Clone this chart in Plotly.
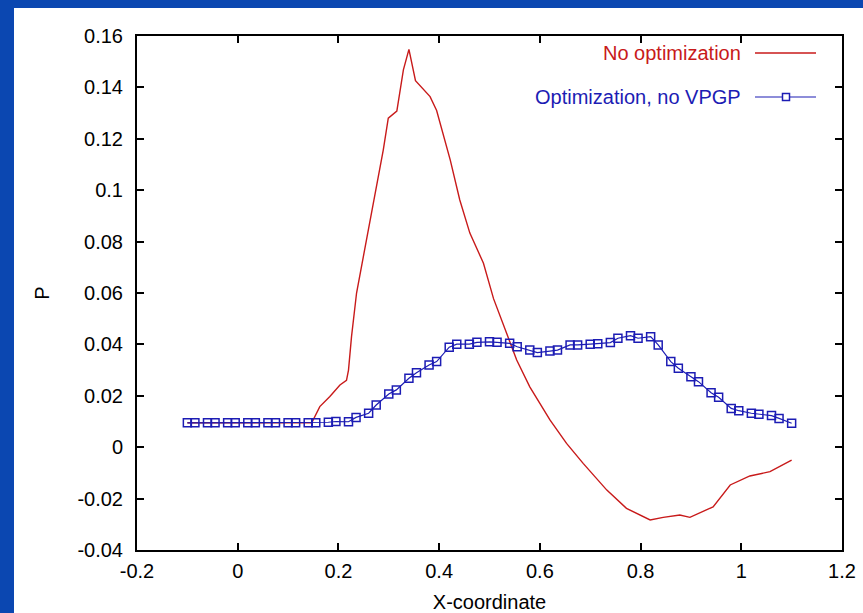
import plotly.graph_objects as go

# ---- data ----
red_x = [-0.1, 0.0, 0.1, 0.147, 0.163, 0.183, 0.203, 0.216, 0.22, 0.226, 0.236, 0.256,
         0.276, 0.289, 0.299, 0.316, 0.329, 0.34, 0.353, 0.382, 0.395, 0.422, 0.441,
         0.461, 0.488, 0.508, 0.534, 0.554, 0.58, 0.62, 0.653, 0.686, 0.733, 0.772,
         0.819, 0.845, 0.878, 0.898, 0.944, 0.978, 1.017, 1.057, 1.10]
red_y = [0.0095, 0.0095, 0.0095, 0.0095, 0.0158, 0.0197, 0.0242, 0.026, 0.030, 0.043,
         0.060, 0.0806, 0.1014, 0.1156, 0.128, 0.1308, 0.1468, 0.1548, 0.1426, 0.1364,
         0.131, 0.1118, 0.0962, 0.0833, 0.0716, 0.0578, 0.0443, 0.0339, 0.0235, 0.0106,
         0.0015, -0.0063, -0.0167, -0.0238, -0.0283, -0.0273, -0.0264, -0.0273, -0.0232,
         -0.0147, -0.0112, -0.0095, -0.005]

blue_x = [-0.1, -0.085, -0.06, -0.045, -0.02, -0.005, 0.02, 0.035, 0.06, 0.075, 0.10, 0.115,
          0.14, 0.155, 0.18, 0.195, 0.22, 0.235, 0.26, 0.275, 0.30, 0.315, 0.34, 0.355,
          0.38, 0.395, 0.42, 0.435, 0.46, 0.475, 0.50, 0.515, 0.54, 0.555, 0.58, 0.595,
          0.62, 0.635, 0.66, 0.675, 0.70, 0.715, 0.74, 0.755, 0.78, 0.795, 0.82, 0.835,
          0.86, 0.875, 0.90, 0.915, 0.94, 0.955, 0.98, 0.995, 1.02, 1.035, 1.06, 1.075, 1.10]
blue_y = [0.0095, 0.0095, 0.0095, 0.0095, 0.0095, 0.0095, 0.0095, 0.0095, 0.0095, 0.0095,
          0.0095, 0.0095, 0.0095, 0.0095, 0.0097, 0.0100, 0.0099, 0.0116, 0.0132, 0.0164,
          0.0207, 0.0223, 0.0268, 0.029, 0.032, 0.0333, 0.0389, 0.0401, 0.0401, 0.0408,
          0.041, 0.0408, 0.0404, 0.0391, 0.0378, 0.0368, 0.0374, 0.0378, 0.0398, 0.0398,
          0.0401, 0.0403, 0.0407, 0.0424, 0.0434, 0.0424, 0.043, 0.0398, 0.0333, 0.0307,
          0.0274, 0.0255, 0.0212, 0.0194, 0.0151, 0.0142, 0.0132, 0.0128, 0.0123, 0.0112,
          0.0093]

x_ticks = [-0.2, 0, 0.2, 0.4, 0.6, 0.8, 1.0, 1.2]
x_tick_text = ["-0.2", "0", "0.2", "0.4", "0.6", "0.8", "1", "1.2"]
y_ticks = [-0.04, -0.02, 0, 0.02, 0.04, 0.06, 0.08, 0.1, 0.12, 0.14, 0.16]
y_tick_text = ["-0.04", "-0.02", "0", "0.02", "0.04", "0.06", "0.08", "0.1", "0.12", "0.14", "0.16"]

red_name = "No optimization"
blue_name = "Optimization, no VPGP"

RED = "#c81a1a"
BLUE = "#1c1cb4"
BG = "#0b47b1"
FONT = "Liberation Sans, Arial, sans-serif"
FS = 20

fig = go.Figure()
fig.add_trace(go.Scatter(x=red_x, y=red_y, mode="lines", name=red_name,
                         line=dict(color=RED, width=1.4)))
fig.add_trace(go.Scatter(x=blue_x, y=blue_y, mode="lines+markers", name=blue_name,
                         line=dict(color=BLUE, width=1.2),
                         marker=dict(symbol="square-open", size=8,
                                     color=BLUE, line=dict(color=BLUE, width=1.5))))

axis_common = dict(showgrid=False, zeroline=False, showline=True, linecolor="black",
                   linewidth=2, mirror="ticks", ticks="inside", ticklen=7,
                   tickwidth=1.5, tickcolor="black",
                   tickfont=dict(family=FONT, size=FS, color="black"))

fig.update_xaxes(range=[-0.2, 1.2], tickvals=x_ticks, ticktext=x_tick_text,
                 ticklabelstandoff=2,
                 title=dict(text="X-coordinate", font=dict(family=FONT, size=FS, color="black"),
                            standoff=16),
                 **axis_common)
fig.update_yaxes(range=[-0.04, 0.16], tickvals=y_ticks, ticktext=y_tick_text,
                 ticklabelstandoff=8,
                 title=dict(text="P", font=dict(family=FONT, size=FS, color="black"),
                            standoff=22),
                 **axis_common)

L, R, T, B = 137, 21, 36, 63
W, H = 863, 613
pw, ph = W - L - R, H - T - B

def px(xp):
    return (xp - L) / pw

def py(yp):
    return (H - B - yp) / ph

shapes = [
    dict(type="rect", xref="paper", yref="paper", x0=px(14), x1=px(W + 5),
         y0=py(H + 5), y1=py(8), fillcolor="white", line=dict(width=0), layer="below"),
    dict(type="line", xref="paper", yref="paper", x0=px(755), x1=px(816),
         y0=py(53), y1=py(53), line=dict(color=RED, width=1.4)),
    dict(type="line", xref="paper", yref="paper", x0=px(755), x1=px(816),
         y0=py(97), y1=py(97), line=dict(color=BLUE, width=1.2)),
    dict(type="rect", xref="paper", yref="paper", xsizemode="pixel", ysizemode="pixel",
         xanchor=px(786), yanchor=py(97), x0=-3.5, x1=3.5, y0=-3.5, y1=3.5,
         fillcolor="white", line=dict(color=BLUE, width=1.5)),
]

annotations = [
    dict(text=red_name, xref="paper", yref="paper", x=px(743), y=py(53),
         xanchor="right", yanchor="middle", showarrow=False,
         font=dict(family=FONT, size=FS, color=RED)),
    dict(text=blue_name, xref="paper", yref="paper", x=px(743), y=py(97),
         xanchor="right", yanchor="middle", showarrow=False,
         font=dict(family=FONT, size=FS, color=BLUE)),
]

fig.update_layout(width=W, height=H, margin=dict(l=L, r=R, t=T, b=B, autoexpand=False),
                  paper_bgcolor=BG, plot_bgcolor="white", showlegend=False,
                  shapes=shapes, annotations=annotations,
                  font=dict(family=FONT, size=FS, color="black"))

fig.write_html("out.html", config={"displayModeBar": False},
               post_script="document.body.style.margin='0';document.body.style.padding='0';"
                           "document.body.style.overflow='hidden';")
